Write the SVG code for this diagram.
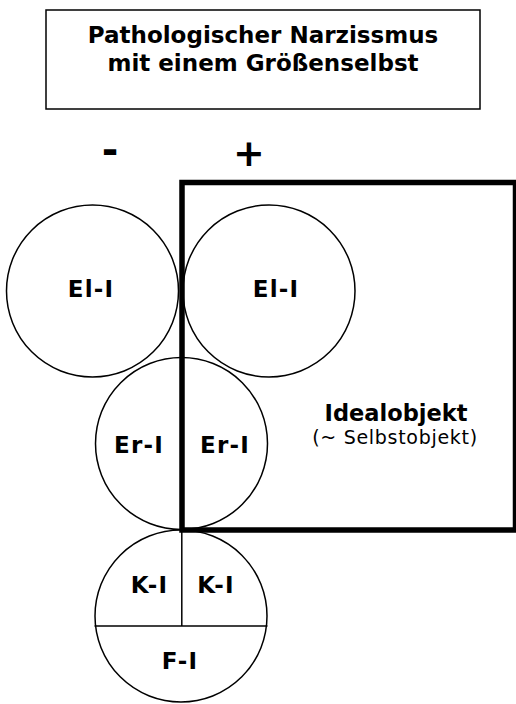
<svg xmlns="http://www.w3.org/2000/svg" width="516" height="704" viewBox="0 0 516 704">
<style>
.b{font-family:"DejaVu Sans","Verdana",sans-serif;font-weight:bold;fill:#000;text-anchor:middle}
.r{font-family:"DejaVu Sans","Verdana",sans-serif;fill:#000;text-anchor:middle}
.t{font-size:23px}
.l{font-size:23px;letter-spacing:1.2px}
.c{fill:#fff;stroke:#000;stroke-width:1.5}
.ln{stroke:#000;stroke-width:1.5;fill:none}
</style>
<rect width="516" height="704" fill="#fff"/>
<g id="title">
<rect x="46" y="10" width="434" height="99" fill="#fff" stroke="#000" stroke-width="1.5"/>
<text class="b t" x="263" y="43">Pathologischer Narzissmus</text>
<text class="b t" x="263" y="71">mit einem Größenselbst</text>
</g>
<g id="signs">
<text class="b" x="110" y="164" font-size="40">-</text>
<text class="b" x="249" y="166" font-size="38">+</text>
</g>
<g id="el-left"><circle class="c" cx="92.5" cy="291" r="86"/><text class="b l" x="91" y="297">El-I</text></g>
<g id="el-right"><circle class="c" cx="269" cy="291" r="86"/></g>
<g id="er"><circle class="c" cx="181.5" cy="443.5" r="86"/></g>
<g id="ki"><circle class="c" cx="181" cy="616" r="86"/></g>
<g id="connectors">
<line class="ln" x1="94.5" y1="626" x2="267.5" y2="626"/>
<line class="ln" x1="181.8" y1="530" x2="181.8" y2="626"/>
</g>
<g id="idealobjekt">
<rect x="182" y="182.5" width="333.5" height="347.5" fill="none" stroke="#000" stroke-width="5.5"/>
<text class="b" x="396" y="421" font-size="22.5">Idealobjekt</text>
<text class="r" x="395" y="444" font-size="19" letter-spacing="0.7">(~ Selbstobjekt)</text>
</g>
<g id="labels">
<text class="b l" x="276" y="297">El-I</text>
<text class="b l" x="139" y="453">Er-I</text>
<text class="b l" x="225" y="453">Er-I</text>
<text class="b l" x="149.5" y="593">K-I</text>
<text class="b l" x="216" y="593">K-I</text>
<text class="b l" x="180" y="669">F-I</text>
</g>
</svg>
